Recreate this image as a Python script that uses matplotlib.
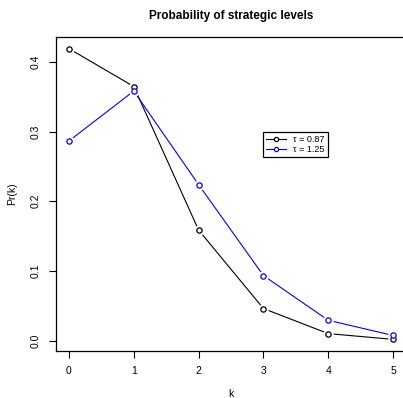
import matplotlib
matplotlib.use("Agg")
import matplotlib.pyplot as plt

# Datos
k = [0, 1, 2, 3, 4, 5]
pr_tau1 = [0.4190, 0.3646, 0.1586, 0.0460, 0.0100, 0.0017]
pr_tau2 = [0.2865, 0.3581, 0.2238, 0.0933, 0.0291, 0.0073]
labels = ["\u03c4 = 0.87", "\u03c4 = 1.25"]
yticks = [0.0, 0.1, 0.2, 0.3, 0.4]

plt.rcParams["font.family"] = ["Liberation Sans", "DejaVu Sans"]

fig = plt.figure(figsize=(4.03, 3.98), dpi=100)
ax = fig.add_axes([56 / 403, 1 - 351 / 398, 350 / 403, 314 / 398])

# Estilo type="b" de R: lineas con hueco alrededor de los puntos
for serie, color, lab in [(pr_tau1, "black", labels[0]), (pr_tau2, "blue", labels[1])]:
    ax.plot(k, serie, color=color, lw=0.8, label=lab, marker="o", ms=3.8,
            mfc="white", mec=color, mew=0.9, zorder=2)
    ax.plot(k, serie, ls="none", marker="o", ms=6.5, mfc="white", mec="white", zorder=3)
    ax.plot(k, serie, ls="none", marker="o", ms=3.8, mfc="white", mec=color,
            mew=0.9, zorder=4)

# Limites estilo R (4% extra)
ymin, ymax = min(pr_tau1 + pr_tau2), max(pr_tau1 + pr_tau2)
r = ymax - ymin
ax.set_xlim(-0.2, 5.2)
ax.set_ylim(ymin - 0.04 * r, ymax + 0.04 * r)

ax.set_xticks(k)
ax.set_yticks(yticks)
ax.set_yticklabels(["0.0", "0.1", "0.2", "0.3", "0.4"], rotation=90, va="center")
ax.tick_params(direction="out", length=5, width=0.8, labelsize=7.5, pad=6)
for s in ax.spines.values():
    s.set_linewidth(0.9)

ax.set_xlabel("k", fontsize=7.5, labelpad=9)
ax.set_ylabel("Pr(k)", fontsize=7.5, labelpad=10)
ax.set_title("Probability of strategic levels", fontsize=8.5, fontweight="bold", pad=13)

leg = ax.legend(loc="upper left", bbox_to_anchor=(0.591, 0.698), fontsize=6.5,
                frameon=True, fancybox=False, edgecolor="black", framealpha=1,
                handlelength=2.2, handletextpad=0.8, borderpad=0.35,
                labelspacing=0.1, markerscale=0.8, borderaxespad=0)
leg.get_frame().set_linewidth(0.9)

fig.savefig("out.png", dpi=100)
